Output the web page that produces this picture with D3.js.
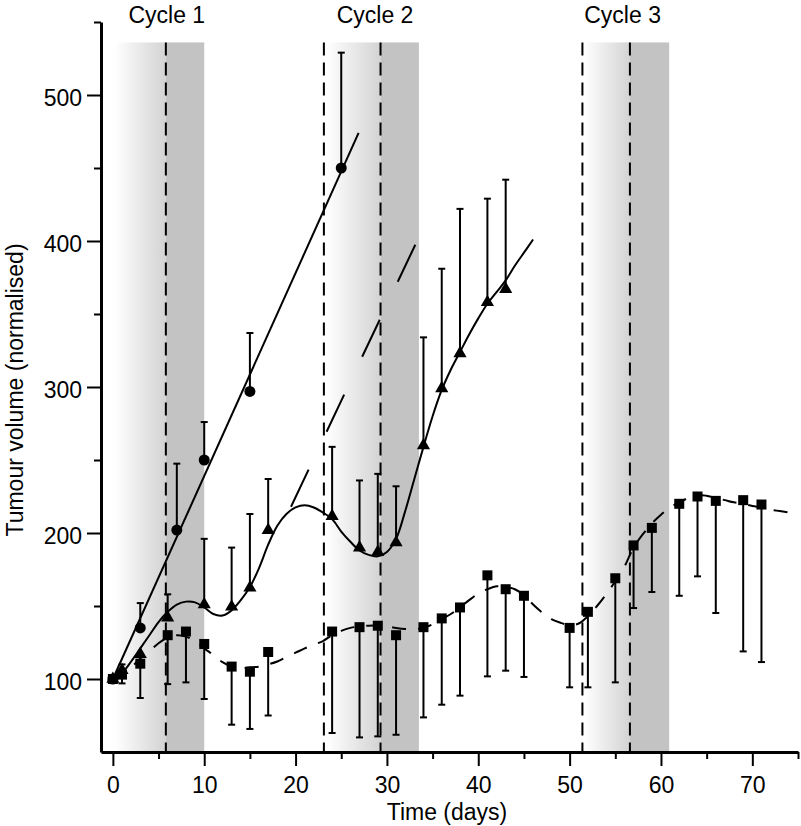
<!DOCTYPE html>
<html>
<head>
<meta charset="utf-8">
<script src="https://cdn.jsdelivr.net/npm/d3@7"></script>
<style>
  body { margin: 0; background: #fff; }
  svg { display: block; font-family: "Liberation Sans", Arial, Helvetica, sans-serif; }
</style>
</head>
<body>
<script>
var w = 801, h = 826;

// axes
var xTicks = [0, 10, 20, 30, 40, 50, 60, 70];
var xMinor = [5, 15, 25, 35, 45, 55, 65, 75];
var yTicks = [100, 200, 300, 400, 500];
var yMinor = [150, 250, 350, 450, 550];

// treatment cycles
var cycleLabels = ["Cycle 1", "Cycle 2", "Cycle 3"];
var cycleLabelDay = [5.9, 28.7, 55.8];
var rampStart = [0.2, 23.4, 51.6];
var rampEnd = [5.8, 29.3, 56.6];
var greyEnd = [10, 33.5, 60.9];
var dashedDays = [5.8, 23.1, 29.3, 51.4, 56.6];
var shadeTop = 536;

// circles (untreated) + straight fit
var circDays = [0, 3, 7, 10, 15, 25];
var circVals = [100, 135, 202, 250, 297, 450];
var circTop = [null, 152, 247.5, 276, 337, 529];
var circFitDays = [0, 26.9];
var circFitVals = [100, 474];

// triangles + solid model curve
var triDays = [0, 1, 3, 6, 10, 13, 15, 17, 24, 27, 29, 31, 34, 36, 38, 41, 43];
var triVals = [100, 106, 117, 142, 151, 149.5, 162.5, 202, 211.5, 190, 187, 193.5, 260, 299, 323, 358, 367];
var triTop = [null, 110, null, 158, 196, 190, 213, 237, 259, 236, 240.5, 232, 334, 381, 422, 429, 442];
var triCurveDays = [0, 1, 2, 3, 4, 5, 6, 7, 8, 9, 10, 11, 12, 13, 14, 15, 16, 17, 18, 19, 20, 21, 22, 23, 24, 25, 26, 27, 28, 29, 30, 31, 32, 33, 34, 35, 36, 37, 38, 39, 40, 41, 42, 43, 44, 45, 46];
var triCurveVals = [100, 104, 112, 121, 130, 139, 146, 151, 153, 152.5, 149, 144.5, 143.5, 147, 154, 163, 176, 192, 205, 213, 217.5, 219, 217.5, 214, 209.5, 201, 194, 188, 185, 184, 187, 196, 215, 237, 259, 280, 298, 312, 324, 336, 347, 357, 365, 373, 383, 392, 401];

// long-dashed projection
var projDays = [19.5, 33.3];
var projVals = [218, 400];

// squares + dashed model curve
var sqDays = [0, 1, 3, 6, 8, 10, 13, 15, 17, 24, 27, 29, 31, 34, 36, 38, 41, 43, 45, 50, 52, 55, 57, 59, 62, 64, 66, 69, 71];
var sqVals = [100, 103, 110.5, 130, 132.5, 124, 108.5, 105, 118.5, 132.5, 135.5, 136.5, 130, 135.5, 141.5, 149, 171, 161.5, 157, 135, 146, 169, 191.5, 203.5, 220, 225, 222, 222.5, 219.5];
var sqLow = [null, 97, 87, 96.5, 97.7, 86.3, 68.7, 65.8, 75, 63, 60, 60.7, 61.8, 73.7, 82.4, 88.6, 101.8, 105.7, 101.4, 94.3, 94.3, 97.7, 148.6, 159.6, 157, 170.3, 145.2, 118.9, 111.6];
var sqCurveDays = [0, 1, 2, 3, 4, 5, 6, 7, 8, 9, 10, 11, 12, 13, 14, 15, 16, 17, 18, 19, 20, 21, 22, 23, 24, 25, 26, 27, 28, 29, 30, 31, 32, 33, 34, 35, 36, 37, 38, 39, 40, 41, 42, 43, 44, 45, 46, 47, 48, 49, 50, 51, 52, 53, 54, 55, 56, 57, 58, 59, 60, 61, 62, 63, 64, 65, 66, 67, 68, 69, 70, 71, 72, 73, 74, 75];
var sqCurveVals = [100, 103, 108, 114, 119, 124.5, 128.5, 130, 129, 126, 121, 116.5, 111.5, 108.5, 107.5, 108, 108.5, 110, 112, 115, 118, 121, 123.5, 126, 130, 133, 135, 136, 136.5, 136.5, 136, 135, 134.3, 134.2, 135, 137.5, 141, 144.5, 149, 154, 158.5, 161.5, 163.5, 163, 161.5, 157.5, 151, 145.5, 141, 138.5, 137, 138, 143, 150, 158, 167, 177, 190, 199, 206.5, 212.5, 217.5, 221, 224, 226, 225.5, 224, 222.5, 221, 220, 218.5, 217.5, 216, 215, 214, 213];

var svg = d3.select("body").append("svg")
  .attr("width", w)
  .attr("height", h);

var x = d3.scaleLinear().domain([-1.3, 75]).range([101, 798]);
var y = d3.scaleLinear().domain([50, 550]).range([752, 22]);

var grad = svg.append("defs").append("linearGradient")
  .attr("id", "ramp")
  .attr("x1", "0").attr("x2", "1").attr("y1", "0").attr("y2", "0");
grad.append("stop").attr("offset", "0").attr("stop-color", "#ffffff");
grad.append("stop").attr("offset", "1").attr("stop-color", "#d3d3d3");

// shading
var cyc = d3.range(cycleLabels.length);
svg.selectAll("rect.ramp").data(cyc).enter().append("rect")
  .attr("class", "ramp")
  .attr("x", function(i){ return x(rampStart[i]); })
  .attr("width", function(i){ return x(rampEnd[i]) - x(rampStart[i]); })
  .attr("y", y(shadeTop))
  .attr("height", y(50) - y(shadeTop))
  .attr("fill", "url(#ramp)");
svg.selectAll("rect.grey").data(cyc).enter().append("rect")
  .attr("class", "grey")
  .attr("x", function(i){ return x(rampEnd[i]); })
  .attr("width", function(i){ return x(greyEnd[i]) - x(rampEnd[i]); })
  .attr("y", y(shadeTop))
  .attr("height", y(50) - y(shadeTop))
  .attr("fill", "#c3c3c3");

svg.selectAll("line.cyc").data(dashedDays).enter().append("line")
  .attr("class", "cyc")
  .attr("x1", function(d){ return x(d); })
  .attr("x2", function(d){ return x(d); })
  .attr("y1", y(shadeTop))
  .attr("y2", y(50))
  .attr("stroke", "#000")
  .attr("stroke-width", 2)
  .attr("stroke-dasharray", "13,7");

svg.selectAll("text.cyc").data(cyc).enter().append("text")
  .attr("class", "cyc")
  .attr("x", function(i){ return x(cycleLabelDay[i]); })
  .attr("y", 23)
  .attr("text-anchor", "middle")
  .style("font-size", "23px")
  .text(function(i){ return cycleLabels[i]; });

// lines
var line = d3.line()
  .x(function(d){ return x(d[0]); })
  .y(function(d){ return y(d[1]); });
var smooth = d3.line()
  .x(function(d){ return x(d[0]); })
  .y(function(d){ return y(d[1]); })
  .curve(d3.curveCatmullRom);

svg.append("path")
  .attr("d", line(d3.zip(circFitDays, circFitVals)))
  .attr("fill", "none").attr("stroke", "#000").attr("stroke-width", 2);
svg.append("path")
  .attr("d", line(d3.zip(projDays, projVals)))
  .attr("fill", "none").attr("stroke", "#000").attr("stroke-width", 2)
  .attr("stroke-dasharray", "41,42");
svg.append("path")
  .attr("d", smooth(d3.zip(triCurveDays, triCurveVals)))
  .attr("fill", "none").attr("stroke", "#000").attr("stroke-width", 2);
svg.append("path")
  .attr("d", smooth(d3.zip(sqCurveDays, sqCurveVals)))
  .attr("fill", "none").attr("stroke", "#000").attr("stroke-width", 2)
  .attr("stroke-dasharray", "14,12");

// error bars
function errorBars(days, vals, ends) {
  var data = days.map(function(d, i){ return { t: d, v: vals[i], e: ends[i] }; })
    .filter(function(d){ return d.e != null; });
  var g = svg.append("g").attr("stroke", "#000").attr("stroke-width", 2);
  g.selectAll("line.bar").data(data).enter().append("line")
    .attr("x1", function(d){ return x(d.t); })
    .attr("x2", function(d){ return x(d.t); })
    .attr("y1", function(d){ return y(d.v); })
    .attr("y2", function(d){ return y(d.e); });
  g.selectAll("line.cap").data(data).enter().append("line")
    .attr("x1", function(d){ return x(d.t) - 3.5; })
    .attr("x2", function(d){ return x(d.t) + 3.5; })
    .attr("y1", function(d){ return y(d.e); })
    .attr("y2", function(d){ return y(d.e); });
}
errorBars(circDays, circVals, circTop);
errorBars(triDays, triVals, triTop);
errorBars(sqDays, sqVals, sqLow);

// markers
svg.selectAll("rect.sq").data(sqDays).enter().append("rect")
  .attr("class", "sq")
  .attr("x", function(d){ return x(d) - 5; })
  .attr("y", function(d, i){ return y(sqVals[i]) - 5; })
  .attr("width", 10).attr("height", 10)
  .attr("fill", "#000");
svg.selectAll("path.tri").data(triDays).enter().append("path")
  .attr("class", "tri")
  .attr("transform", function(d, i){ return "translate(" + x(d) + "," + y(triVals[i]) + ")"; })
  .attr("d", d3.symbol().type(d3.symbolTriangle).size(75))
  .attr("fill", "#000");
svg.selectAll("circle.circ").data(circDays).enter().append("circle")
  .attr("class", "circ")
  .attr("cx", function(d){ return x(d); })
  .attr("cy", function(d, i){ return y(circVals[i]); })
  .attr("r", 5.5)
  .attr("fill", "#000");

// axes
function styleAxis(g) {
  g.select(".domain").attr("stroke-width", 3);
  g.selectAll(".tick line").attr("stroke-width", 2);
  g.selectAll("text").style("font-size", "23px").attr("fill", "#000")
    .style("font-family", "\"Liberation Sans\", Arial, Helvetica, sans-serif");
}

svg.append("g")
  .attr("transform", "translate(0," + y(50) + ")")
  .call(d3.axisBottom(x).tickValues(xMinor).tickSize(7).tickSizeOuter(0).tickFormat(""))
  .call(function(g){ g.select(".domain").remove(); g.selectAll(".tick line").attr("stroke-width", 2); });
svg.append("g")
  .attr("transform", "translate(" + x(-1.3) + ",0)")
  .call(d3.axisLeft(y).tickValues(yMinor).tickSize(7).tickSizeOuter(0).tickFormat(""))
  .call(function(g){ g.select(".domain").remove(); g.selectAll(".tick line").attr("stroke-width", 2); });

svg.append("g")
  .attr("transform", "translate(0," + y(50) + ")")
  .call(d3.axisBottom(x).tickValues(xTicks).tickSize(14).tickSizeOuter(0).tickPadding(11))
  .call(styleAxis);
svg.append("g")
  .attr("transform", "translate(" + x(-1.3) + ",0)")
  .call(d3.axisLeft(y).tickValues(yTicks).tickSize(14).tickSizeOuter(0).tickPadding(5))
  .call(styleAxis)
  .call(function(g){ g.selectAll("text").attr("dy", "0.46em"); });

svg.append("text")
  .attr("x", 447)
  .attr("y", 820)
  .attr("text-anchor", "middle")
  .style("font-size", "23px")
  .text("Time (days)");

svg.append("text")
  .attr("transform", "translate(23,390) rotate(-90)")
  .attr("text-anchor", "middle")
  .style("font-size", "23px")
  .text("Tumour volume (normalised)");
</script>
</body>
</html>
